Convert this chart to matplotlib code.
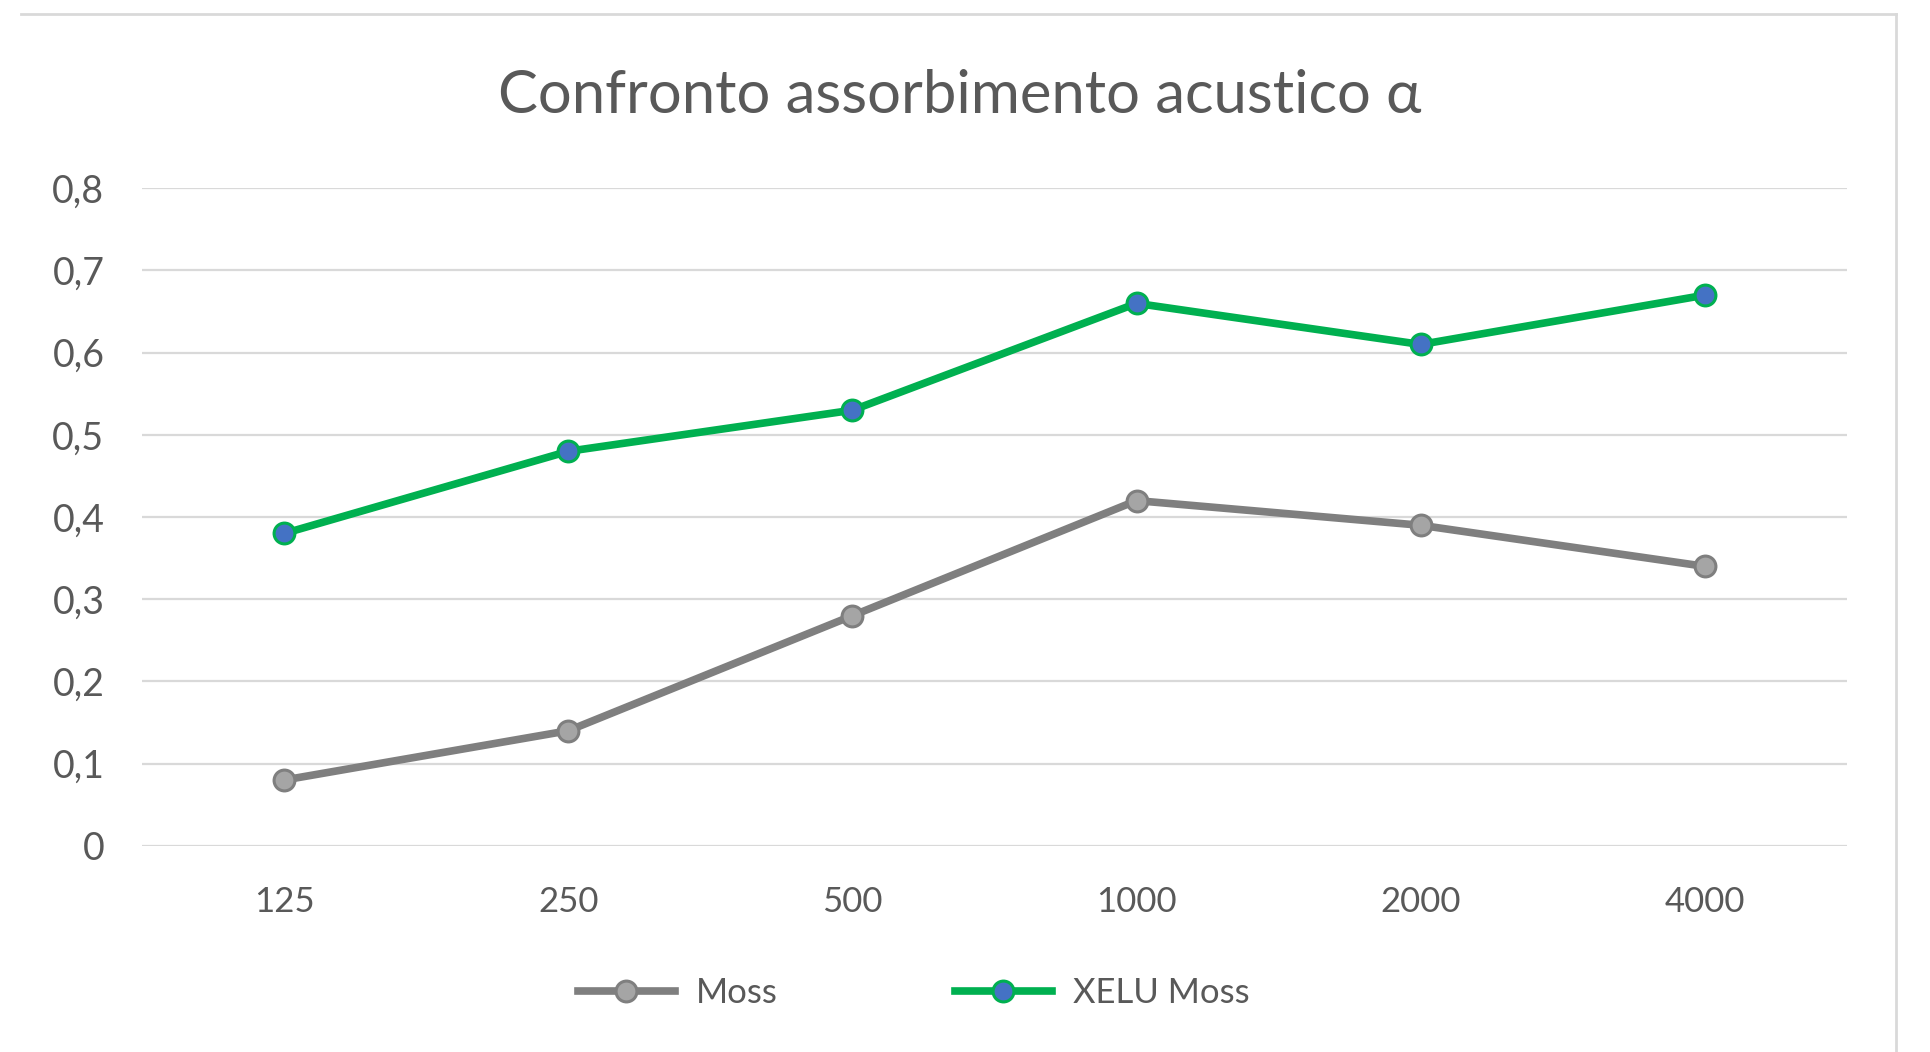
import matplotlib
matplotlib.use('Agg')
import matplotlib.pyplot as plt
from matplotlib.lines import Line2D

plt.rcParams['font.family'] = ['Lato', 'DejaVu Sans']

# data
frequencies = ['125', '250', '500', '1000', '2000', '4000']
moss = [0.08, 0.14, 0.28, 0.42, 0.39, 0.34]
xelu_moss = [0.38, 0.48, 0.53, 0.66, 0.61, 0.67]
y_ticks = [0, 0.1, 0.2, 0.3, 0.4, 0.5, 0.6, 0.7, 0.8]
y_labels = ['0', '0,1', '0,2', '0,3', '0,4', '0,5', '0,6', '0,7', '0,8']

fig = plt.figure(figsize=(19.31, 10.52), dpi=100)
ax = fig.add_axes([0.0735, 0.196, 0.883, 0.625])

x = range(len(frequencies))
ax.plot(x, moss, color='#7f7f7f', linewidth=5.5, marker='o', markersize=15,
        markerfacecolor='#a5a5a5', markeredgecolor='#7f7f7f', markeredgewidth=2.2,
        label='Moss', zorder=3)
ax.plot(x, xelu_moss, color='#00b050', linewidth=5.5, marker='o', markersize=15,
        markerfacecolor='#4472c4', markeredgecolor='#00b050', markeredgewidth=2.2,
        label='XELU Moss', zorder=3)

ax.set_xlim(-0.5, 5.5)
ax.set_ylim(0, 0.8)
ax.set_xticks(list(x))
ax.set_xticklabels(frequencies)
ax.set_yticks(y_ticks)
ax.set_yticklabels(y_labels)
ax.grid(axis='y', color='#d9d9d9', linewidth=1.6)
ax.set_axisbelow(True)
for s in ax.spines.values():
    s.set_visible(False)
ax.tick_params(axis='x', length=0, labelsize=25, labelcolor='#595959', pad=29)
ax.tick_params(axis='y', length=0, labelsize=27, labelcolor='#595959', pad=27)

fig.text(0.497, 0.909, 'Confronto assorbimento acustico α', ha='center', va='center',
         fontsize=43, color='#595959')

leg = fig.legend(loc='center', bbox_to_anchor=(0.473, 0.056), ncol=2, frameon=False,
                 fontsize=25, handlelength=2.8, columnspacing=5.1, handletextpad=0.6)
for t in leg.get_texts():
    t.set_color('#595959')

# outer frame (top and right edges visible)
fig.add_artist(Line2D([0.011, 0.982], [0.987, 0.987], color='#d9d9d9', linewidth=2,
                      transform=fig.transFigure))
fig.add_artist(Line2D([0.982, 0.982], [0.987, 0.0], color='#d9d9d9', linewidth=2,
                      transform=fig.transFigure))

fig.savefig('out.png', dpi=100)
